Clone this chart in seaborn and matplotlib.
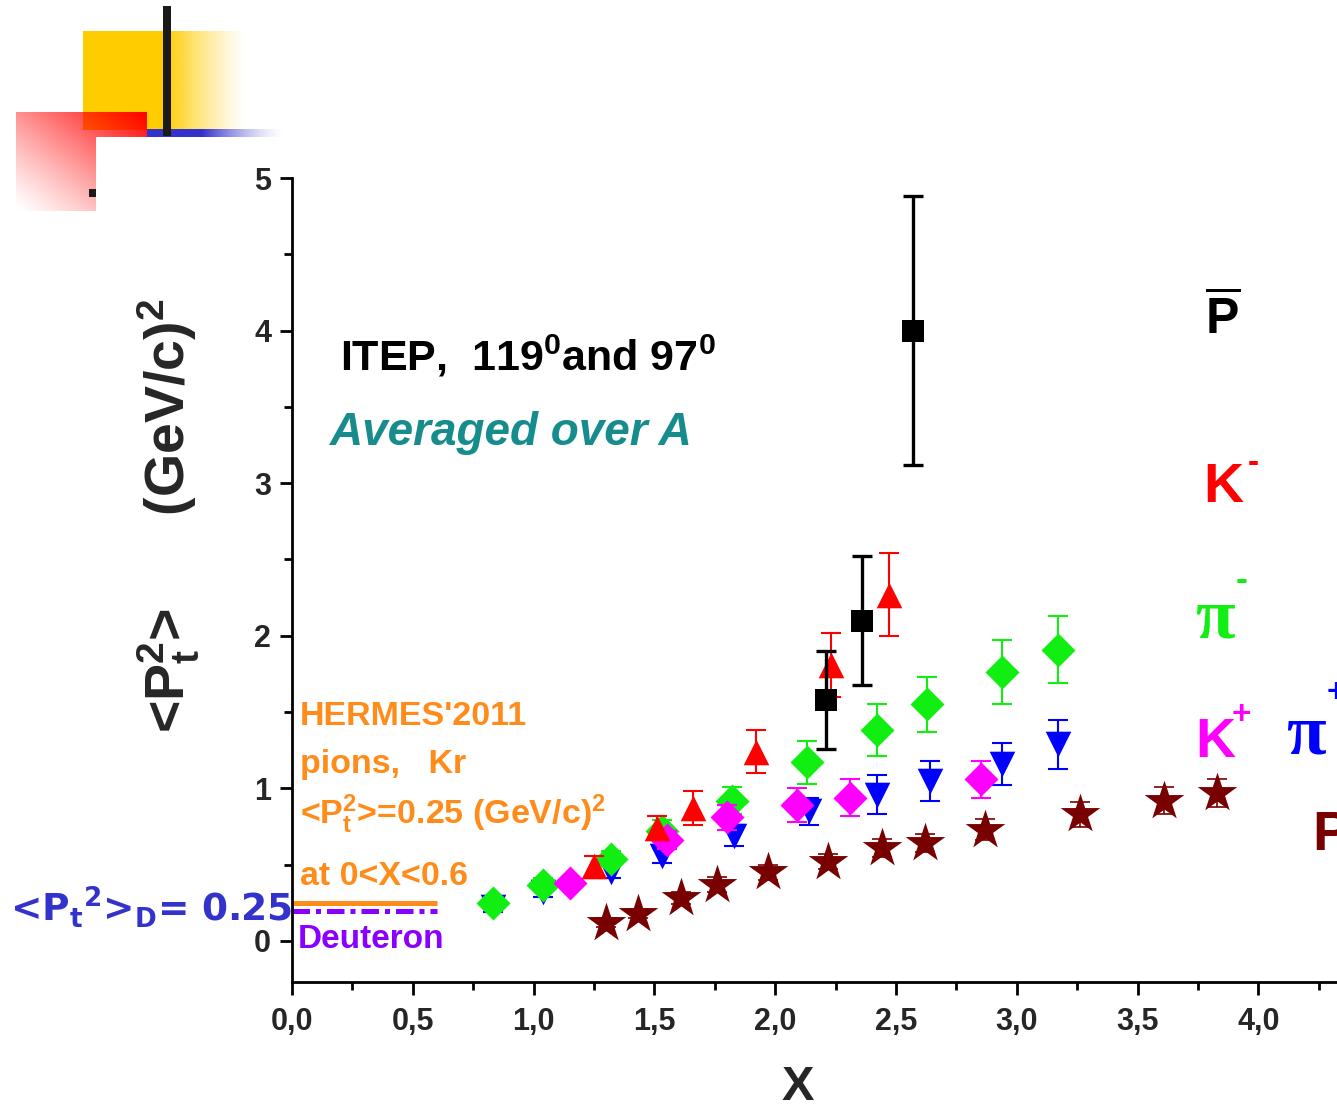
import numpy as np
import pandas as pd
import matplotlib
matplotlib.use("Agg")
import matplotlib.pyplot as plt
import matplotlib.transforms as mtransforms
from matplotlib.patches import Rectangle
from matplotlib.ticker import FixedLocator, FixedFormatter, MultipleLocator
import seaborn as sns

# ---------------- data ----------------
pbar_x = [2.21, 2.36, 2.57]
pbar_y = [1.58, 2.10, 4.00]
pbar_err = [0.32, 0.42, 0.88]

kminus_x = [1.25, 1.51, 1.66, 1.92, 2.23, 2.47]
kminus_y = [0.49, 0.74, 0.87, 1.24, 1.81, 2.27]
kminus_err = [0.07, 0.08, 0.11, 0.14, 0.21, 0.27]

piminus_x = [0.83, 1.04, 1.32, 1.53, 1.82, 2.13, 2.42, 2.63, 2.94, 3.17]
piminus_y = [0.25, 0.37, 0.54, 0.72, 0.92, 1.17, 1.38, 1.55, 1.76, 1.91]
piminus_err = [0.03, 0.04, 0.05, 0.07, 0.09, 0.14, 0.17, 0.18, 0.21, 0.22]

kplus_x = [1.15, 1.55, 1.80, 2.09, 2.31, 2.85]
kplus_y = [0.38, 0.66, 0.81, 0.89, 0.94, 1.06]
kplus_err = [0.03, 0.06, 0.08, 0.11, 0.12, 0.12]

piplus_x = [0.83, 1.04, 1.32, 1.53, 1.83, 2.14, 2.42, 2.64, 2.94, 3.17]
piplus_y = [0.22, 0.32, 0.45, 0.56, 0.69, 0.85, 0.96, 1.05, 1.16, 1.29]
piplus_err = [0.03, 0.03, 0.04, 0.05, 0.07, 0.09, 0.13, 0.13, 0.14, 0.16]

proton_x = [1.30, 1.43, 1.61, 1.76, 1.97, 2.22, 2.44, 2.62, 2.87, 3.26, 3.61, 3.83]
proton_y = [0.12, 0.18, 0.28, 0.37, 0.45, 0.52, 0.61, 0.64, 0.73, 0.83, 0.92, 0.97]
proton_err = [0.03, 0.03, 0.04, 0.05, 0.05, 0.05, 0.06, 0.06, 0.07, 0.08, 0.09, 0.09]

hermes_x = [0.0, 0.6]
hermes_pt2 = 0.25
deuteron_x = [0.0, 0.6]
deuteron_pt2 = 0.25

x_ticks = [0.0, 0.5, 1.0, 1.5, 2.0, 2.5, 3.0, 3.5, 4.0]
x_tick_labels = ["0,0", "0,5", "1,0", "1,5", "2,0", "2,5", "3,0", "3,5", "4,0"]
y_ticks = [0, 1, 2, 3, 4, 5]
y_tick_labels = ["0", "1", "2", "3", "4", "5"]

# species styling: (label, x, y, err, marker, colour, size, lw)
series = [
    ("pi+", piplus_x, piplus_y, piplus_err, "v", "#0000ff", 340, 1.5),
    ("pi-", piminus_x, piminus_y, piminus_err, "D", "#11ee11", 300, 1.5),
    ("K+", kplus_x, kplus_y, kplus_err, "D", "#ff00ff", 300, 1.5),
    ("K-", kminus_x, kminus_y, kminus_err, "^", "#ff0000", 340, 1.5),
    ("pbar", pbar_x, pbar_y, pbar_err, "s", "#000000", 240, 2.4),
    ("p", proton_x, proton_y, proton_err, "*", "#780000", 900, 1.2),
]

# ---------------- figure ----------------
W, H = 1337, 1110
sns.set_theme(style="ticks")
plt.rcParams["font.family"] = ["Liberation Sans", "DejaVu Sans"]
plt.rcParams["mathtext.default"] = "regular"

fig = plt.figure(figsize=(W / 100, H / 100), dpi=100)
fig.patch.set_facecolor("white")


def fx(px):
    return px / W


def fy(py):
    return 1 - py / H


# slide-corner ornament
deco = fig.add_axes([0, 0, 1, 1], zorder=-1)
deco.set_xlim(0, W)
deco.set_ylim(H, 0)
deco.axis("off")

t = np.linspace(0, 1, 200)
yel = np.zeros((1, 200, 4))
yel[..., 0] = 1.0
yel[..., 1] = 0.8
yel[0, :, 3] = np.clip(1 - (t - 0.5) / 0.5, 0, 1) ** 1.3
deco.imshow(yel, extent=(83, 248, 130, 31), aspect="auto", interpolation="bilinear")

u = np.linspace(0, 1, 120)[None, :]
v = np.linspace(0, 1, 100)[:, None]
red = np.zeros((100, 120, 4))
red[..., 0] = 1.0
red[..., 3] = np.clip((u + (1 - v)) / 2, 0, 1) ** 1.2
deco.imshow(red, extent=(16, 147, 211, 112), aspect="auto", interpolation="bilinear")

blu = np.zeros((1, 200, 4))
blu[..., 0] = 0.2
blu[..., 1] = 0.2
blu[..., 2] = 0.8
blu[0, :, 3] = np.clip(1 - (t - 0.4) / 0.6, 0, 1) ** 1.5
deco.imshow(blu, extent=(147, 285, 137, 129), aspect="auto", interpolation="bilinear")

deco.add_patch(Rectangle((96, 137), 60, 80, color="white", lw=0))
deco.add_patch(Rectangle((163, 6), 8, 130, color="#1a1a1a", lw=0))
deco.add_patch(Rectangle((89, 189), 7, 8, color="#1a1a1a", lw=0))

# main axes
ax = fig.add_axes([fx(292), fy(982), (W - 292) / W, (982 - 178) / H])
ax.set_xlim(0, 4.325)
ax.set_ylim(-0.2687, 5.0)
ax.set_facecolor("none")
sns.despine(ax=ax)
for s in ("left", "bottom"):
    ax.spines[s].set_linewidth(2.0)
    ax.spines[s].set_color("black")

ax.xaxis.set_major_locator(FixedLocator(x_ticks))
ax.xaxis.set_major_formatter(FixedFormatter(x_tick_labels))
ax.xaxis.set_minor_locator(MultipleLocator(0.25))
ax.yaxis.set_major_locator(FixedLocator(y_ticks))
ax.yaxis.set_major_formatter(FixedFormatter(y_tick_labels))
ax.yaxis.set_minor_locator(MultipleLocator(0.5))
ax.tick_params(which="major", direction="out", length=9, width=2, color="black")
ax.tick_params(which="minor", direction="out", length=5.5, width=2, color="black")
ax.tick_params(axis="y", pad=6)
ax.tick_params(axis="x", pad=9)
for lab in ax.get_yticklabels():
    lab.set_fontsize(22)
    lab.set_fontweight("bold")
for lab in ax.get_xticklabels():
    lab.set_fontsize(22)
    lab.set_fontweight("bold")

# data series
frames = []
for name, xs, ys, es, *_ in series:
    frames.append(pd.DataFrame({"X": xs, "Pt2": ys, "err": es, "species": name}))
df = pd.concat(frames, ignore_index=True)

z = 3
for name, xs, ys, es, mk, col, size, lw in series:
    sub = df[df["species"] == name]
    ax.errorbar(sub["X"], sub["Pt2"], yerr=sub["err"], fmt="none", ecolor=col,
                elinewidth=lw, capsize=7.5, capthick=lw, zorder=z)
    sns.scatterplot(data=sub, x="X", y="Pt2", marker=mk, color=col, s=size,
                    linewidth=0, edgecolor=col, ax=ax, zorder=z + 0.5, legend=False)
    z += 1

# HERMES band and deuteron reference
ax.plot(hermes_x, [hermes_pt2] * 2, color="#ff8c1a", lw=3.6, solid_capstyle="butt",
        clip_on=False, zorder=2)
shift = mtransforms.ScaledTranslation(0, -8 / 100, fig.dpi_scale_trans)
ax.plot(deuteron_x, [deuteron_pt2] * 2, color="#8a00ff", lw=3.6,
        dashes=(3.5, 1.2, 1, 1.2), transform=ax.transData + shift,
        clip_on=False, zorder=2)
ax.set_xlabel("")
ax.set_ylabel("")

# axis titles
fig.text(fx(798), fy(1100), "X", fontsize=35, fontweight="bold", ha="center",
         va="baseline")
fig.text(fx(168), fy(516), "<P$_t^2$>      (GeV/c)$^2$", fontsize=40, fontweight="bold",
         rotation=90, ha="center", va="center")

# annotations
fig.text(fx(340), fy(371), "ITEP,  119$^0$and 97$^0$", fontsize=31, fontweight="bold",
         ha="left", va="baseline", color="black")
fig.text(fx(330), fy(445), "Averaged over A", fontsize=33, fontweight="bold",
         style="italic", ha="left", va="baseline", color="#168c8c")

orange = "#ff8c1a"
fig.text(fx(300), fy(725), "HERMES'2011", fontsize=24.5, fontweight="bold", color=orange)
fig.text(fx(300), fy(773), "pions,   Kr", fontsize=24.5, fontweight="bold", color=orange)
fig.text(fx(300), fy(824), "<P$_t^2$>=0.25 (GeV/c)$^2$", fontsize=24.5, color=orange,
         fontweight="bold")
fig.text(fx(300), fy(885), "at 0<X<0.6", fontsize=24.5, fontweight="bold", color=orange)
fig.text(fx(298), fy(948), "Deuteron", fontsize=24, fontweight="bold", color="#8a00ff")

fig.text(fx(10), fy(921), "<P$_t$$^2$>$_D$= 0.25", fontsize=27, fontweight="bold",
         color="#3333cc", family=["DejaVu Sans"], ha="left", va="baseline")

# species labels
fig.text(fx(1205), fy(333), r"$\overline{P}$", fontsize=36, fontweight="bold",
         color="black", va="baseline")
fig.text(fx(1203), fy(502), "K", fontsize=40, fontweight="bold",
         color="#ff0000", va="baseline")
fig.text(fx(1248), fy(472), "-", fontsize=24, fontweight="bold",
         color="#ff0000", va="baseline")
fig.text(fx(1195), fy(637), "π", fontsize=52, fontweight="bold",
         color="#11ee11", va="baseline", family=["Liberation Serif"])
fig.text(fx(1236), fy(590), "-", fontsize=26, fontweight="bold",
         color="#11ee11", va="baseline")
fig.text(fx(1195), fy(757), "K", fontsize=40, fontweight="bold",
         color="#ff00ff", va="baseline")
fig.text(fx(1232), fy(724), "+", fontsize=24, fontweight="bold",
         color="#ff00ff", va="baseline")
fig.text(fx(1286), fy(753), "π", fontsize=52, fontweight="bold",
         color="#0000ff", va="baseline", family=["Liberation Serif"])
fig.text(fx(1327), fy(702), "+", fontsize=24, fontweight="bold",
         color="#0000ff", va="baseline")
fig.text(fx(1312), fy(850), "P", fontsize=40, fontweight="bold",
         color="#780000", va="baseline")

fig.savefig("out.png", dpi=100, facecolor="white")
